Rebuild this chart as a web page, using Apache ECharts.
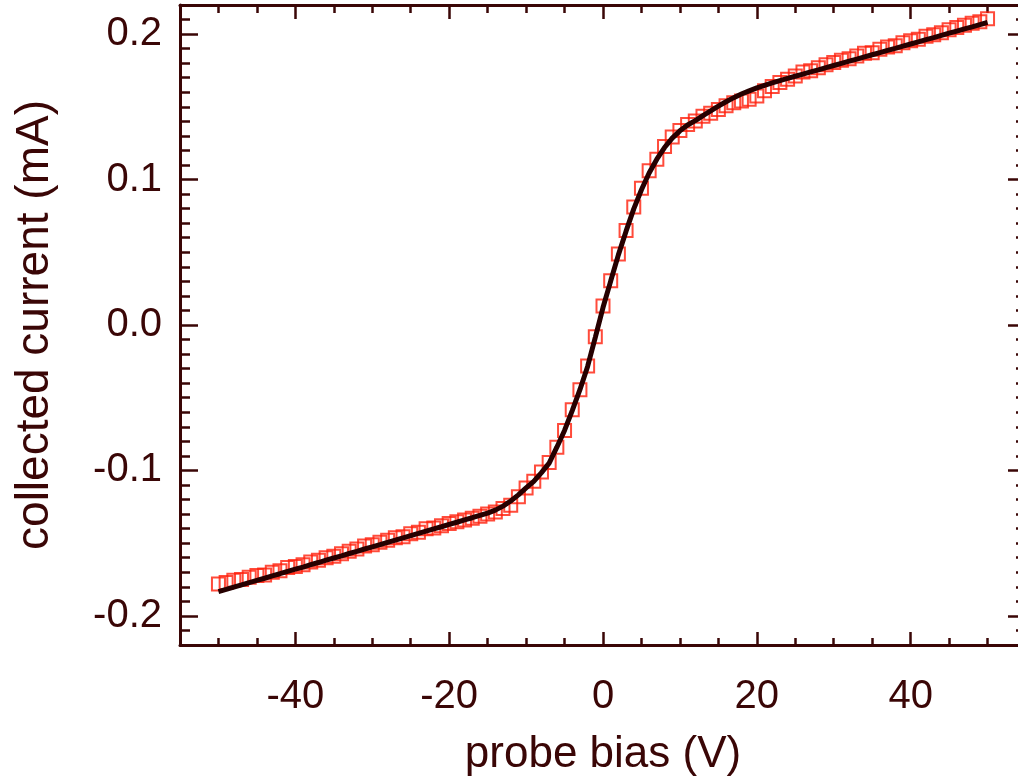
<!DOCTYPE html>
<html><head><meta charset="utf-8">
<script src="https://cdn.jsdelivr.net/npm/echarts@6/dist/echarts.min.js"></script>
<style>html,body{margin:0;padding:0;background:#fff}#c{width:1018px;height:782px}</style>
</head><body><div id="c"></div>
<script>
// probe bias samples (V)
const biasV = [-50,-49,-48,-47,-46,-45,-44,-43,-42,-41,-40,-39,-38,-37,-36,-35,-34,-33,-32,-31,-30,-29,-28,-27,-26,-25,-24,-23,-22,-21,-20,-19,-18,-17,-16,-15,-14,-13,-12,-11,-10,-9,-8,-7,-6,-5,-4,-3,-2,-1,0,1,2,3,4,5,6,7,8,9,10,11,12,13,14,15,16,17,18,19,20,21,22,23,24,25,26,27,28,29,30,31,32,33,34,35,36,37,38,39,40,41,42,43,44,45,46,47,48,49,50];
// measured collected current (mA) - red squares
const measuredI = [-0.1780,-0.1770,-0.1755,-0.1750,-0.1735,-0.1722,-0.1718,-0.1700,-0.1690,-0.1668,-0.1660,-0.1648,-0.1630,-0.1618,-0.1600,-0.1590,-0.1572,-0.1555,-0.1540,-0.1520,-0.1510,-0.1493,-0.1480,-0.1462,-0.1455,-0.1435,-0.1425,-0.1400,-0.1395,-0.1380,-0.1365,-0.1352,-0.1340,-0.1328,-0.1315,-0.1300,-0.1285,-0.1262,-0.1240,-0.1180,-0.1120,-0.1075,-0.1010,-0.0945,-0.0840,-0.0725,-0.0583,-0.0445,-0.0282,-0.0080,0.0130,0.0305,0.0488,0.0650,0.0812,0.0940,0.1060,0.1140,0.1228,0.1292,0.1338,0.1378,0.1402,0.1435,0.1455,0.1482,0.1508,0.1528,0.1540,0.1552,0.1575,0.1610,0.1640,0.1668,0.1690,0.1712,0.1740,0.1748,0.1768,0.1790,0.1805,0.1820,0.1830,0.1850,0.1868,0.1872,0.1895,0.1912,0.1920,0.1940,0.1955,0.1965,0.1985,0.1995,0.2010,0.2030,0.2045,0.2060,0.2075,0.2085,0.2105];
// fitted curve (mA) - dark line
const fitI = [-0.1833,-0.1818,-0.1802,-0.1787,-0.1771,-0.1756,-0.1741,-0.1725,-0.1710,-0.1694,-0.1679,-0.1664,-0.1648,-0.1633,-0.1617,-0.1602,-0.1587,-0.1571,-0.1556,-0.1540,-0.1525,-0.1510,-0.1494,-0.1479,-0.1463,-0.1448,-0.1433,-0.1417,-0.1402,-0.1387,-0.1371,-0.1356,-0.1340,-0.1325,-0.1309,-0.1293,-0.1273,-0.1245,-0.1210,-0.1168,-0.1120,-0.1075,-0.1015,-0.0950,-0.0840,-0.0725,-0.0588,-0.0445,-0.0285,-0.0085,0.0120,0.0302,0.0482,0.0645,0.0798,0.0930,0.1045,0.1140,0.1220,0.1285,0.1335,0.1375,0.1405,0.1440,0.1472,0.1505,0.1535,0.1563,0.1588,0.1610,0.1630,0.1648,0.1665,0.1680,0.1695,0.1710,0.1725,0.1740,0.1754,0.1769,0.1784,0.1799,0.1814,0.1828,0.1843,0.1858,0.1873,0.1888,0.1902,0.1917,0.1932,0.1947,0.1962,0.1976,0.1991,0.2006,0.2021,0.2036,0.2050,0.2065,0.2080];
const xTickLabels = [-40,-20,0,20,40];
const yTickLabels = [-0.2,-0.1,0.0,0.1,0.2];

const ink = '#3a0606';
const font = "'Liberation Sans', Arial, Helvetica, sans-serif";
const measured = biasV.map((v,i)=>[v, measuredI[i]]);
const fit = biasV.map((v,i)=>[v, fitI[i]]);

function xAx(pos, major, withLabels){
  const a = {
    type:'value', position:pos, min:-55, max:55, interval:5,
    splitLine:{show:false},
    axisLine:{show:!major, onZero:false, lineStyle:{color:ink, width:3}},
    axisTick:{show:true, inside:true, length: major ? (pos==='top'?14:13) : (pos==='top'?8:7), lineStyle:{color:ink, width:2.5}},
    axisLabel:{show:false}
  };
  if (major) a.axisTick.customValues = xTickLabels;
  if (withLabels){
    a.axisLabel = {show:true, customValues:xTickLabels, color:ink, fontFamily:font, fontSize:40, margin:32,
      formatter:v=>String(Math.round(v))};
    a.name = 'probe bias (V)';
    a.nameLocation = 'middle';
    a.nameGap = 88;
    a.nameTextStyle = {color:ink, fontFamily:font, fontSize:44};
  }
  return a;
}
function yAx(pos, major, withLabels){
  const a = {
    type:'value', position:pos, min:-0.22, max:0.22, interval:0.01,
    splitLine:{show:false},
    axisLine:{show:!major, onZero:false, lineStyle:{color:ink, width:3}},
    axisTick:{show:true, inside:true, length: major ? 18 : 10, lineStyle:{color:ink, width:2.5}},
    axisLabel:{show:false}
  };
  if (major) a.axisTick.customValues = yTickLabels;
  if (withLabels){
    a.axisLabel = {show:true, customValues:yTickLabels, color:ink, fontFamily:font, fontSize:40, margin:18,
      formatter:v=>(Math.abs(v)<1e-9?'0.0':v.toFixed(1))};
    a.name = 'collected current (mA)';
    a.nameLocation = 'middle';
    a.nameGap = 122;
    a.nameTextStyle = {color:ink, fontFamily:font, fontSize:46};
  }
  return a;
}

const chart = echarts.init(document.getElementById('c'), null, {renderer:'canvas'});
chart.setOption({
  animation:false,
  backgroundColor:'#ffffff',
  grid:{left:180, top:5, width:846, height:640, containLabel:false, outerBoundsMode:'none'},
  xAxis:[xAx('bottom',false,true), xAx('bottom',true,false), xAx('top',false,false), xAx('top',true,false)],
  yAxis:[yAx('left',false,true), yAx('left',true,false), yAx('right',false,false), yAx('right',true,false)],
  series:[
    {type:'scatter', xAxisIndex:0, yAxisIndex:0, data:measured, symbol:'rect', symbolSize:13,
     itemStyle:{color:'rgba(255,255,255,0)', borderColor:'#ff1e0a', borderWidth:2}, z:2},
    {type:'line', xAxisIndex:0, yAxisIndex:0, data:fit, showSymbol:false, symbol:'none',
     lineStyle:{color:'#260000', width:5}, z:3}
  ]
});
</script></body></html>
